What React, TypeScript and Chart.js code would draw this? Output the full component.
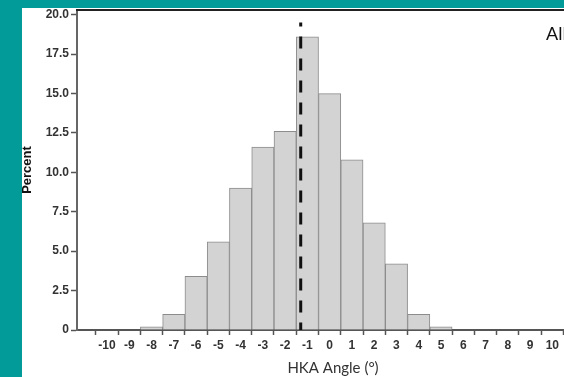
import React, { useEffect, useRef } from "react";
import { Chart, registerables } from "chart.js";

Chart.register(...registerables);

const bins = [-10, -9, -8, -7, -6, -5, -4, -3, -2, -1, 0, 1, 2, 3, 4, 5, 6, 7, 8, 9, 10];
const percents = [0, 0, 0.2, 1.0, 3.4, 5.6, 9.0, 11.6, 12.6, 18.6, 15.0, 10.8, 6.8, 4.2, 1.0, 0.2, 0, 0, 0, 0, 0];
const xTickValues = [-10, -9, -8, -7, -6, -5, -4, -3, -2, -1, 0, 1, 2, 3, 4, 5, 6, 7, 8, 9, 10];
const yTickValues = [0, 2.5, 5, 7.5, 10, 12.5, 15, 17.5, 20];
const meanLineX = -1.3;
const meanLineTop = 19.5;
const groupLabel = "All";
const xTitle = "HKA Angle (°)";
const yTitle = "Percent";

const overlayPlugin = {
  id: "overlay",
  afterDatasetsDraw(chart: any) {
    const { ctx, chartArea, scales } = chart;
    const x = scales.x.getPixelForValue(meanLineX);
    const yTop = scales.y.getPixelForValue(meanLineTop);
    const yBot = scales.y.getPixelForValue(0);
    ctx.save();
    ctx.strokeStyle = "#111";
    ctx.lineWidth = 3;
    ctx.setLineDash([12, 10]);
    ctx.lineDashOffset = 8;
    ctx.beginPath();
    ctx.moveTo(x, yTop);
    ctx.lineTo(x, yBot);
    ctx.stroke();
    ctx.setLineDash([]);
    ctx.strokeStyle = "#222";
    ctx.lineWidth = 2;
    ctx.beginPath();
    ctx.moveTo(chartArea.left - 1, chartArea.top);
    ctx.lineTo(chartArea.right, chartArea.top);
    ctx.stroke();
    ctx.fillStyle = "#111";
    ctx.font = "18px Lato, 'Open Sans', sans-serif";
    ctx.textBaseline = "middle";
    ctx.textAlign = "left";
    ctx.fillText(groupLabel, 546, 34);
    ctx.restore();
  },
};

export default function App() {
  const ref = useRef<HTMLCanvasElement | null>(null);
  useEffect(() => {
    if (!ref.current) return;
    const chart = new Chart(ref.current, {
      type: "bar",
      data: {
        datasets: [
          {
            data: bins.map((b, i) => ({ x: b, y: percents[i] })),
            backgroundColor: "#d3d3d3",
            borderColor: "#8c8c8c",
            borderWidth: 1,
            barPercentage: 1,
            categoryPercentage: 1,
          },
        ],
      },
      options: {
        responsive: false,
        animation: false,
        layout: { padding: { left: 0, top: 10, right: 51, bottom: 0 } },
        plugins: { legend: { display: false }, tooltip: { enabled: false } },
        scales: {
          x: {
            type: "linear",
            min: -10.8,
            max: 11.1,
            afterBuildTicks: (s: any) => {
              s.ticks = xTickValues.map((v) => ({ value: v }));
            },
            afterFit: (s: any) => {
              s.height = 47;
            },
            grid: { display: true, drawOnChartArea: false, drawTicks: true, tickLength: 5, color: "#555", tickWidth: 1.5 },
            border: { display: true, color: "#555", width: 2 },
            ticks: {
              color: "#333",
              font: { family: "'Liberation Sans', Arial, sans-serif", size: 12, weight: "bold" },
              padding: 3,
              maxRotation: 0,
              autoSkip: false,
            },
            title: {
              display: true,
              text: xTitle,
              color: "#333",
              font: { family: "Lato, 'Open Sans', sans-serif", size: 15 },
              padding: { top: 0, bottom: 0 },
            },
          },
          y: {
            type: "linear",
            min: 0,
            max: 20.3,
            afterBuildTicks: (s: any) => {
              s.ticks = yTickValues.map((v) => ({ value: v }));
            },
            afterFit: (s: any) => {
              s.width = 77;
            },
            grid: { display: true, drawOnChartArea: false, drawTicks: true, tickLength: 6, color: "#555", tickWidth: 1.5 },
            border: { display: true, color: "#666", width: 2 },
            ticks: {
              color: "#333",
              font: { family: "'Liberation Sans', Arial, sans-serif", size: 12, weight: "bold" },
              padding: 2,
              callback: (v: any) => (v === 0 ? "0" : Number(v).toFixed(1)),
            },
            title: {
              display: true,
              text: yTitle,
              color: "#111",
              font: { family: "'Liberation Sans', Arial, sans-serif", size: 13, weight: "bold" },
              padding: { top: 20, bottom: 0 },
            },
          },
        },
      },
      plugins: [overlayPlugin],
    } as any);
    return () => chart.destroy();
  }, []);

  return (
    <div
      style={{
        position: "fixed",
        left: 0,
        top: 0,
        width: 564,
        height: 377,
        overflow: "hidden",
        background: "#039a9a",
      }}
    >
      <div style={{ position: "absolute", left: 22, top: 8, right: 0, bottom: 0, background: "#ffffff" }} />
      <canvas ref={ref} width={640} height={377} style={{ position: "absolute", left: 0, top: 0 }} />
    </div>
  );
}
